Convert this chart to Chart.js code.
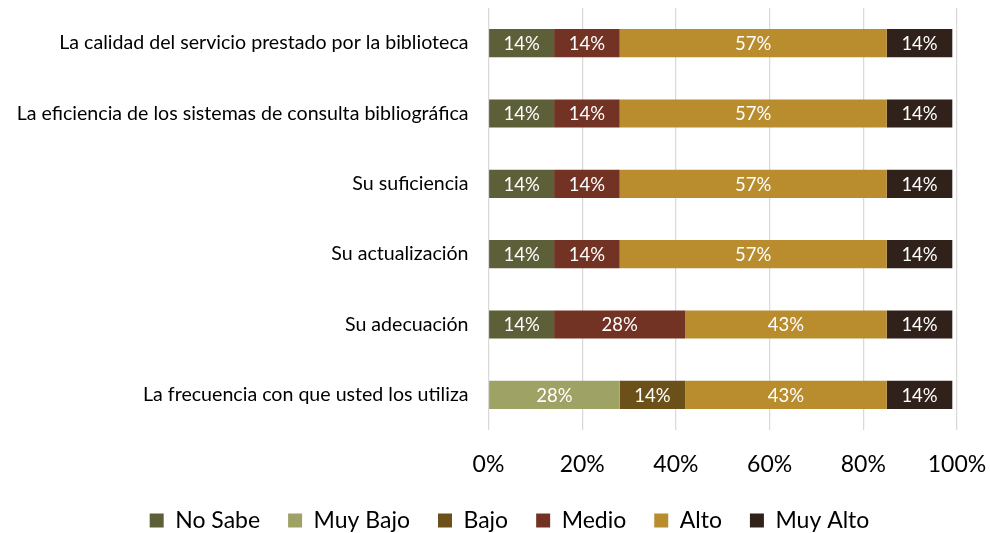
<!DOCTYPE html>
<html>
<head>
<meta charset="utf-8">
<script src="https://cdn.jsdelivr.net/npm/chart.js@4"></script>
<style>
  html, body { margin: 0; padding: 0; background: #fff; }
  #wrap { width: 990px; height: 533px; }
</style>
</head>
<body>
<div id="wrap"><canvas id="grafico"></canvas></div>
<script>
// preguntas (de arriba hacia abajo)
const preguntas = [
  'La calidad del servicio prestado por la biblioteca',
  'La eficiencia de los sistemas de consulta bibliográfica',
  'Su suficiencia',
  'Su actualización',
  'Su adecuación',
  'La frecuencia con que usted los utiliza'
];

// porcentajes por nivel de respuesta
const noSabe  = [14, 14, 14, 14, 14, 0];
const muyBajo = [0, 0, 0, 0, 0, 28];
const bajo    = [0, 0, 0, 0, 0, 14];
const medio   = [14, 14, 14, 14, 28, 0];
const alto    = [57, 57, 57, 57, 43, 43];
const muyAlto = [14, 14, 14, 14, 14, 14];

const ticksX = [0, 20, 40, 60, 80, 100];

const fuente = 'Lato, "Open Sans", sans-serif';

// etiquetas blancas dentro de cada segmento
const etiquetasBarras = {
  id: 'etiquetasBarras',
  afterDatasetsDraw(chart) {
    const ctx = chart.ctx;
    ctx.save();
    ctx.font = '18.5px ' + fuente;
    ctx.fillStyle = '#ffffff';
    ctx.textAlign = 'center';
    ctx.textBaseline = 'middle';
    chart.data.datasets.forEach((ds, i) => {
      const meta = chart.getDatasetMeta(i);
      meta.data.forEach((bar, j) => {
        const v = ds.data[j];
        if (!v) return;
        const x = (bar.x + bar.base) / 2;
        ctx.fillText(v + '%', x, bar.y + 1);
      });
    });
    ctx.restore();
  }
};

// coloca la fila de la leyenda a la altura deseada
const moverLeyenda = {
  id: 'moverLeyenda',
  afterLayout(chart) {
    const ley = chart.legend;
    if (!ley) return;
    const lab = ley.options.labels;
    const dy = 520.5 - (ley.top + lab.padding + lab.font.size / 2);
    const dx = 31;
    ley.top += dy; ley.bottom += dy;
    ley.left += dx; ley.right += dx;
  }
};

function serie(nombre, datos, color) {
  return {
    label: nombre,
    data: datos,
    backgroundColor: color,
    borderWidth: 0,
    barPercentage: 0.4,
    categoryPercentage: 1
  };
}

const ctx = document.getElementById('grafico').getContext('2d');
const grafico = new Chart(ctx, {
  type: 'bar',
  data: {
    labels: preguntas,
    datasets: [
      serie('No Sabe', noSabe, '#5c5f37'),
      serie('Muy Bajo', muyBajo, '#9fa265'),
      serie('Bajo', bajo, '#6b5119'),
      serie('Medio', medio, '#723324'),
      serie('Alto', alto, '#b98c2e'),
      serie('Muy Alto', muyAlto, '#30221a')
    ]
  },
  options: {
    indexAxis: 'y',
    responsive: true,
    maintainAspectRatio: false,
    animation: false,
    layout: { padding: { top: 8, right: 33, left: 0, bottom: -6 } },
    scales: {
      x: {
        stacked: true,
        min: 0,
        max: 100,
        afterBuildTicks(scale) {
          scale.ticks = ticksX.map(v => ({ value: v }));
        },
        afterFit(scale) {
          scale.height = 48;
          scale.paddingLeft = 0;
          scale.paddingRight = 0;
        },
        grid: { color: '#d9d9d9', lineWidth: 1.25, drawTicks: false },
        border: { display: false },
        ticks: {
          padding: 21,
          color: '#000',
          font: { family: fuente, size: 23 },
          callback: v => v + '%'
        }
      },
      y: {
        stacked: true,
        afterFit(scale) {
          scale.width = 488.5;
          scale.paddingTop = 0;
          scale.paddingBottom = 0;
        },
        grid: { display: false, drawTicks: false },
        border: { display: false },
        ticks: {
          padding: 20,
          color: '#000',
          font: { family: fuente, size: 19.6 }
        }
      }
    },
    plugins: {
      legend: {
        position: 'bottom',
        labels: {
          boxWidth: 14,
          boxHeight: 14,
          padding: 28,
          color: '#000',
          font: { family: fuente, size: 23 }
        }
      },
      tooltip: { enabled: false }
    }
  },
  plugins: [etiquetasBarras, moverLeyenda]
});
</script>
</body>
</html>
